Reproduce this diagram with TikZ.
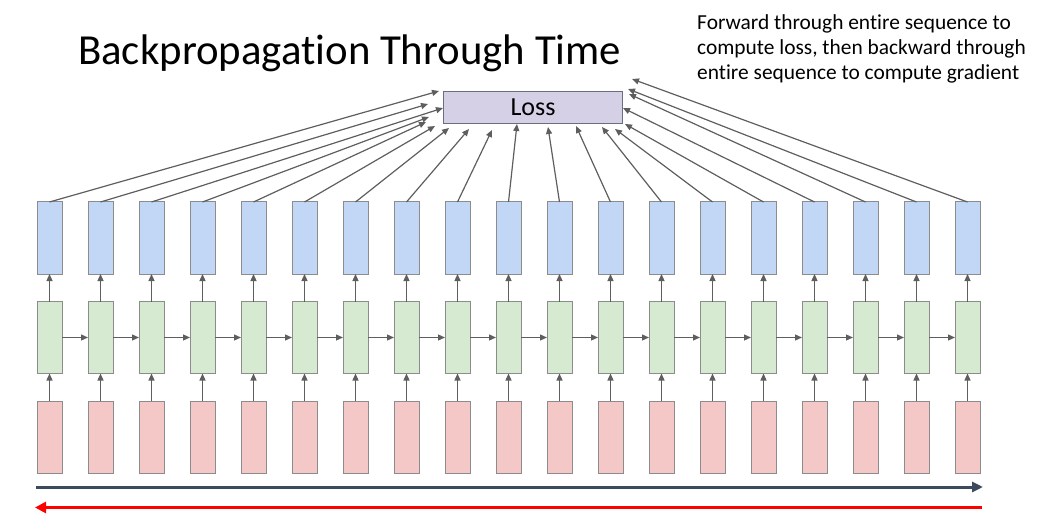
\documentclass[tikz,border=0pt]{standalone}
\usepackage{fontspec}
\setmainfont{Carlito}[Ligatures=NoCommon]
\usetikzlibrary{arrows.meta}
\definecolor{bluefill}{HTML}{C2D7F6}
\definecolor{greenfill}{HTML}{D6E9D1}
\definecolor{redfill}{HTML}{F5C8C8}
\definecolor{lossfill}{HTML}{D6D0E7}
\definecolor{boxline}{HTML}{8C8C8C}
\definecolor{lossline}{HTML}{6A6F80}
\definecolor{conncol}{HTML}{5E5E5E}
\definecolor{fwdcol}{HTML}{3C4A5E}
\begin{document}
\begin{tikzpicture}[x=1pt,y=-1pt,
  cell/.style={draw=boxline,line width=1pt,minimum width=25pt,minimum height=72pt,inner sep=0pt,outer sep=0pt},
  outcell/.style={cell,fill=bluefill},
  hidcell/.style={cell,fill=greenfill},
  incell/.style={cell,fill=redfill},
  conn/.style={draw=conncol,line width=1.2pt,-{Triangle[length=7pt,width=6pt]}},
  fwd/.style={draw=fwdcol,line width=3pt,-{Triangle[length=11pt,width=10pt]}},
  bwd/.style={draw=red,line width=3.5pt,-{Triangle[length=11pt,width=11pt]}}]
\useasboundingbox (0,0) rectangle (1037,524);
\node[anchor=base west,font=\fontsize{42.8}{50}\selectfont,inner sep=0pt] (title) at (78,65) {Backpropagation Through Time};
\node[anchor=north west,align=left,font=\fontsize{21.4}{25}\selectfont,inner sep=0pt] (note) at (697,14) {Forward through entire sequence to\\compute loss, then backward through\\entire sequence to compute gradient};
\node[draw=lossline,fill=lossfill,line width=1pt,minimum width=179pt,minimum height=32pt,inner sep=0pt,outer sep=0pt,font=\fontsize{26}{30}\selectfont] (loss) at (533,107.3) {Loss};
\foreach \i in {1,...,19}{
  \pgfmathsetmacro{\cx}{49.5+51*(\i-1)}
  \node[outcell] (b\i) at (\cx,238) {};
  \node[hidcell] (g\i) at (\cx,337.5) {};
  \node[incell] (r\i) at (\cx,437) {};
  \draw[conn] (r\i) -- (g\i);
  \draw[conn] (g\i) -- (b\i);
}
\foreach \i [evaluate=\i as \j using int(\i+1)] in {1,...,18}{
  \draw[conn] (g\i) -- (g\j);
}
\coordinate (t1) at (439,91);
\coordinate (t2) at (428,104);
\coordinate (t3) at (443,108);
\coordinate (t4) at (429,117);
\coordinate (t5) at (426,122);
\coordinate (t6) at (435,126);
\coordinate (t7) at (449,128);
\coordinate (t8) at (469,129);
\coordinate (t9) at (492,130);
\coordinate (t10) at (517,124);
\coordinate (t11) at (548,127);
\coordinate (t12) at (576,126);
\coordinate (t13) at (602,127);
\coordinate (t14) at (615,129);
\coordinate (t15) at (625,124);
\coordinate (t16) at (623,108);
\coordinate (t17) at (629,94);
\coordinate (t18) at (628,89);
\coordinate (t19) at (632,79);
\foreach \i in {1,...,19}{
  \draw[conn] (b\i.north) -- (t\i);
}
\coordinate (fs) at (36,487);
\coordinate (fe) at (983,487);
\coordinate (bs) at (982,507.5);
\coordinate (be) at (35,507.5);
\draw[fwd] (fs) -- (fe);
\draw[bwd] (bs) -- (be);
\end{tikzpicture}
\end{document}
